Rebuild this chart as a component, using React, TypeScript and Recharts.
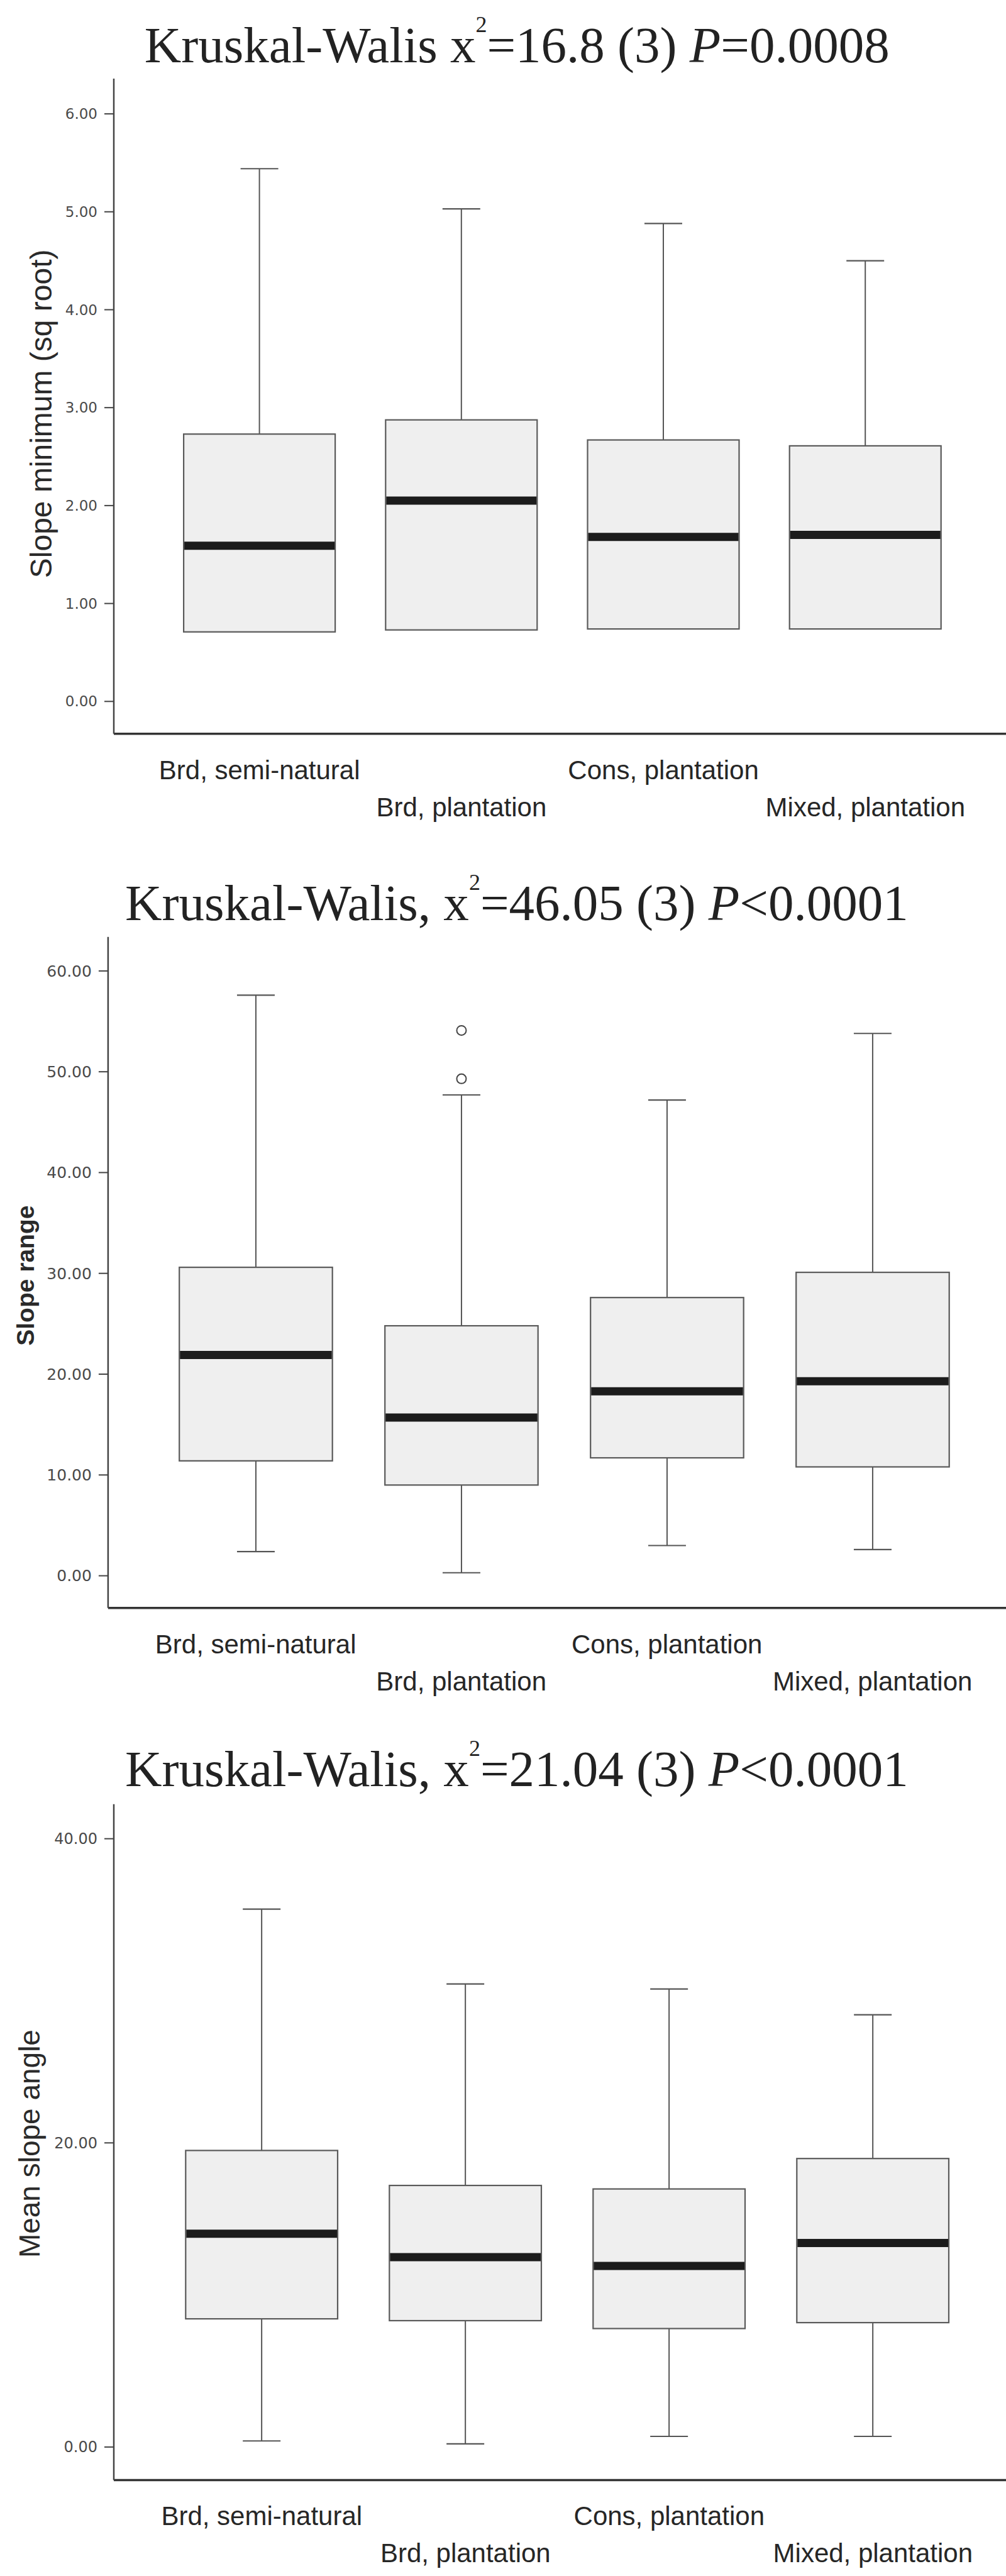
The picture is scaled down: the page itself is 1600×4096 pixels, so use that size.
import { ComposedChart, Bar, XAxis, YAxis, Label } from "recharts";

// ── data ─────────────────────────────────────────────────────────────────────

const categories = [
  "Brd, semi-natural",
  "Brd, plantation",
  "Cons, plantation",
  "Mixed, plantation",
];

// Slope minimum (sq root) – no lower whiskers, min sits on Q1
const minLow = [0.71, 0.73, 0.74, 0.74];
const minQ1 = [0.71, 0.73, 0.74, 0.74];
const minMedian = [1.59, 2.05, 1.68, 1.7];
const minQ3 = [2.73, 2.875, 2.67, 2.61];
const minHigh = [5.44, 5.03, 4.88, 4.5];
const minTicks = [0, 1, 2, 3, 4, 5, 6];

// Slope range
const rangeLow = [2.4, 0.3, 3.0, 2.6];
const rangeQ1 = [11.4, 9.0, 11.7, 10.8];
const rangeMedian = [21.9, 15.7, 18.3, 19.3];
const rangeQ3 = [30.6, 24.8, 27.6, 30.1];
const rangeHigh = [57.6, 47.7, 47.2, 53.8];
const rangeOutliers = [[], [54.1, 49.3], [], []];
const rangeTicks = [0, 10, 20, 30, 40, 50, 60];

// Mean slope angle
const angleLow = [0.4, 0.21, 0.7, 0.7];
const angleQ1 = [8.43, 8.31, 7.79, 8.18];
const angleMedian = [14.03, 12.49, 11.91, 13.42];
const angleQ3 = [19.5, 17.2, 16.97, 18.97];
const angleHigh = [35.37, 30.45, 30.12, 28.42];
const angleTicks = [0, 20, 40];

const buildRows = (
  low: number[],
  q1: number[],
  median: number[],
  q3: number[],
  high: number[],
  outliers?: number[][],
) =>
  categories.map((name, i) => ({
    name,
    low: low[i],
    q1: q1[i],
    median: median[i],
    q3: q3[i],
    high: high[i],
    range: [low[i], high[i]],
    outliers: outliers ? outliers[i] : [],
  }));

const minRows = buildRows(minLow, minQ1, minMedian, minQ3, minHigh);
const rangeRows = buildRows(
  rangeLow,
  rangeQ1,
  rangeMedian,
  rangeQ3,
  rangeHigh,
  rangeOutliers,
);
const angleRows = buildRows(angleLow, angleQ1, angleMedian, angleQ3, angleHigh);

// ── styling ──────────────────────────────────────────────────────────────────

const SANS = "'Liberation Sans', Arial, sans-serif";
const SERIF = "'Liberation Serif', 'Times New Roman', serif";
const CHART_W = 1640;
const Y_AXIS_W = 100;
const X_AXIS_H = 150;
const CAP_W = 60;

// box: whiskers, box, thick median, caps, outliers – all y from the bar's own scale
const BoxShape = (props: any) => {
  const { x, y, width, height, payload } = props;
  if (!payload) return null;
  const { low, high, q1, median, q3, outliers } = payload;
  const toY = (v: number) => y + ((high - v) / (high - low)) * height;
  const cx = x + width / 2;
  const yQ1 = toY(q1);
  const yQ3 = toY(q3);
  const yMed = toY(median);
  const yHigh = toY(high);
  const yLow = toY(low);
  const hasLow = low < q1 - 1e-9;
  return (
    <g>
      <line x1={cx} x2={cx} y1={yHigh} y2={yQ3} stroke="#555" strokeWidth={2} />
      {hasLow && (
        <line x1={cx} x2={cx} y1={yQ1} y2={yLow} stroke="#555" strokeWidth={2} />
      )}
      <rect
        x={x}
        y={yQ3}
        width={width}
        height={yQ1 - yQ3}
        fill="#efefef"
        stroke="#5a5a5a"
        strokeWidth={2.2}
      />
      <line
        x1={x + 1}
        x2={x + width - 1}
        y1={yMed}
        y2={yMed}
        stroke="#1c1c1c"
        strokeWidth={13}
      />
      <line
        x1={cx - CAP_W / 2}
        x2={cx + CAP_W / 2}
        y1={yHigh}
        y2={yHigh}
        stroke="#555"
        strokeWidth={2.2}
      />
      {hasLow && (
        <line
          x1={cx - CAP_W / 2}
          x2={cx + CAP_W / 2}
          y1={yLow}
          y2={yLow}
          stroke="#555"
          strokeWidth={2.2}
        />
      )}
      {(outliers as number[]).map((v, i) => (
        <circle
          key={i}
          cx={cx}
          cy={toY(v)}
          r={7.5}
          fill="none"
          stroke="#444"
          strokeWidth={2}
        />
      ))}
    </g>
  );
};

const CategoryTick = (props: any) => {
  const { x, y, payload, index } = props;
  const dy = index % 2 === 0 ? 72 : 131;
  return (
    <text
      x={x}
      y={y + dy}
      textAnchor="middle"
      fontFamily={SANS}
      fontSize={42}
      fill="#262626"
    >
      {payload.value}
    </text>
  );
};

interface PanelProps {
  rows: ReturnType<typeof buildRows>;
  top: number;
  plotTop: number;
  plotBottom: number;
  plotLeft: number;
  plotRight: number;
  pad: number;
  barSize: number;
  domain: [number, number];
  ticks: number[];
  tickFont: number;
  yLabel: string;
  yLabelX: number;
  yLabelDy: number;
  yLabelSize: number;
  yLabelWeight: string;
}

const BoxPanel = ({
  rows,
  top,
  plotTop,
  plotBottom,
  plotLeft,
  plotRight,
  pad,
  barSize,
  domain,
  ticks,
  tickFont,
  yLabel,
  yLabelX,
  yLabelDy,
  yLabelSize,
  yLabelWeight,
}: PanelProps) => {
  const height = plotBottom - top + X_AXIS_H;
  return (
    <div style={{ position: "absolute", left: 0, top }}>
      <ComposedChart
        width={CHART_W}
        height={height}
        data={rows}
        margin={{
          top: plotTop - top,
          right: CHART_W - plotRight,
          bottom: 0,
          left: plotLeft - Y_AXIS_W,
        }}
      >
        <XAxis
          xAxisId="bottom"
          dataKey="name"
          type="category"
          interval={0}
          height={X_AXIS_H}
          padding={{ left: pad, right: pad }}
          axisLine={{ stroke: "#333", strokeWidth: 3.5 }}
          tickLine={false}
          tickSize={0}
          tickMargin={0}
          tick={<CategoryTick />}
        />
        <XAxis
          xAxisId="top"
          orientation="top"
          dataKey="name"
          type="category"
          height={0}
          padding={{ left: pad, right: pad }}
          axisLine={{ stroke: "#555", strokeWidth: 3 }}
          tickLine={false}
          tick={false}
        />
        <YAxis
          type="number"
          width={Y_AXIS_W}
          domain={domain}
          ticks={ticks}
          allowDataOverflow
          interval={0}
          axisLine={{ stroke: "#444", strokeWidth: 2.5 }}
          tickLine={{ stroke: "#444", strokeWidth: 2 }}
          tickSize={15}
          tickMargin={11}
          tick={{ fontSize: tickFont, fill: "#4a4a4a", fontFamily: "'DejaVu Sans', sans-serif" }}
          tickFormatter={(v: number) => v.toFixed(2)}
        >
          <Label
            content={(p: any) => {
              const vb = p.viewBox || { y: 0, height: 0 };
              const cy = vb.y + vb.height / 2 + yLabelDy;
              return (
                <text
                  x={yLabelX}
                  y={cy}
                  transform={`rotate(-90 ${yLabelX} ${cy})`}
                  textAnchor="middle"
                  dominantBaseline="central"
                  fontFamily={SANS}
                  fontSize={yLabelSize}
                  fontWeight={yLabelWeight}
                  fill="#2a2a2a"
                >
                  {yLabel}
                </text>
              );
            }}
          />
        </YAxis>
        <Bar
          xAxisId="bottom"
          dataKey="range"
          barSize={barSize}
          shape={(p: unknown) => <BoxShape {...(p as object)} />}
          isAnimationActive={false}
        />
      </ComposedChart>
    </div>
  );
};

const Title = ({
  x,
  y,
  lead,
  stat,
  pSign,
  pValue,
}: {
  x: number;
  y: number;
  lead: string;
  stat: string;
  pSign: string;
  pValue: string;
}) => (
  <text x={x} y={y} fontFamily={SERIF} fontSize={81} fill="#222">
    {lead}
    <tspan fontSize={36} dy={-48}>
      2
    </tspan>
    <tspan dy={48}>{stat}</tspan>
    <tspan fontStyle="italic">P</tspan>
    <tspan>{pSign + pValue}</tspan>
  </text>
);

export default function App() {
  return (
    <div
      style={{
        position: "absolute",
        left: 0,
        top: 0,
        width: 1600,
        height: 4096,
        overflow: "hidden",
        background: "#fff",
      }}
    >
      <BoxPanel
        rows={minRows}
        top={0}
        plotTop={125}
        plotBottom={1166.7}
        plotLeft={181}
        plotRight={1608}
        pad={71.1}
        barSize={241}
        domain={[-0.33, 6.36]}
        ticks={minTicks}
        tickFont={23}
        yLabel="Slope minimum (sq root)"
        yLabelX={65}
        yLabelDy={12}
        yLabelSize={48}
        yLabelWeight="normal"
      />
      <BoxPanel
        rows={rangeRows}
        top={1340}
        plotTop={1489.7}
        plotBottom={2556.7}
        plotLeft={171.9}
        plotRight={1622.5}
        pad={71.3}
        barSize={243.5}
        domain={[-3.19, 63.38]}
        ticks={rangeTicks}
        tickFont={25}
        yLabel="Slope range"
        yLabelX={40.4}
        yLabelDy={5}
        yLabelSize={39}
        yLabelWeight="bold"
      />
      <BoxPanel
        rows={angleRows}
        top={2720}
        plotTop={2868.8}
        plotBottom={3943.4}
        plotLeft={181}
        plotRight={1623.6}
        pad={73.3}
        barSize={241.7}
        domain={[-2.17, 42.27]}
        ticks={angleTicks}
        tickFont={24}
        yLabel="Mean slope angle"
        yLabelX={46.7}
        yLabelDy={2.5}
        yLabelSize={46}
        yLabelWeight="normal"
      />
      <svg
        width={1600}
        height={4096}
        style={{ position: "absolute", left: 0, top: 0, pointerEvents: "none" }}
      >
        <Title x={229.8} y={99.3} lead="Kruskal-Walis x" stat="=16.8 (3) " pSign="=" pValue="0.0008" />
        <Title x={199} y={1462.8} lead="Kruskal-Walis, x" stat="=46.05 (3) " pSign="<" pValue="0.0001" />
        <Title x={199} y={2839.7} lead="Kruskal-Walis, x" stat="=21.04 (3) " pSign="<" pValue="0.0001" />
      </svg>
    </div>
  );
}
